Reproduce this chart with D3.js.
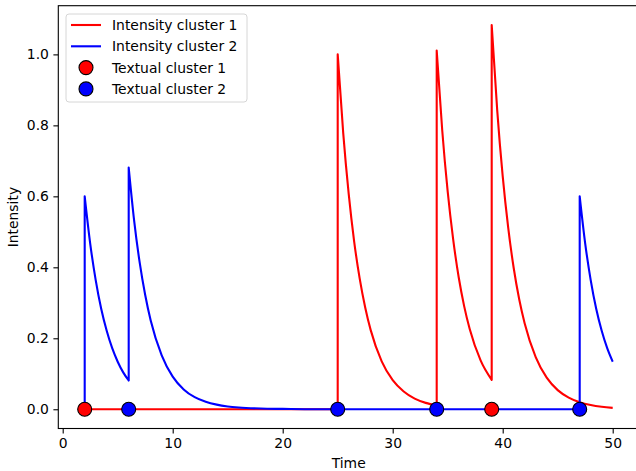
<!DOCTYPE html>
<html>
<head>
<meta charset="utf-8">
<script src="https://cdn.jsdelivr.net/npm/d3@7.9.0/dist/d3.min.js"></script>
<style>
  body { margin: 0; background: #fff; }
  svg { display: block; font-family: "DejaVu Sans", sans-serif; }
  .tick text { font-size: 13.9px; fill: #000; }
</style>
</head>
<body>
<svg width="636" height="471"></svg>
<script>
// intensity curves (time, intensity); repeated time = jump
const cluster1Time = [2, 25, 25, 25.5, 26, 26.5, 27, 27.5, 28, 29, 30, 31, 32, 33, 34,
  34, 34.5, 35, 35.5, 36, 36.5, 37, 38, 39,
  39, 39.5, 40, 40.5, 41, 41.5, 42, 43, 44, 45, 46, 47, 48, 49, 50];
const cluster1Value = [0, 0, 1.0, 0.779, 0.607, 0.472, 0.368, 0.287, 0.223, 0.135, 0.082, 0.050, 0.030, 0.018, 0.011,
  1.011, 0.787, 0.613, 0.478, 0.372, 0.290, 0.226, 0.137, 0.083,
  1.083, 0.843, 0.657, 0.512, 0.398, 0.310, 0.242, 0.147, 0.089, 0.054, 0.033, 0.020, 0.012, 0.007, 0.004];

const cluster2Time = [2, 2, 2.5, 3, 3.5, 4, 4.5, 5, 5.5, 6,
  6, 6.5, 7, 7.5, 8, 9, 10, 11, 12, 13, 14, 15, 16, 18, 20, 22, 25, 47,
  47, 47.5, 48, 48.5, 49, 49.5, 50];
const cluster2Value = [0, 0.60, 0.467, 0.364, 0.283, 0.221, 0.172, 0.134, 0.104, 0.081,
  0.681, 0.530, 0.413, 0.322, 0.250, 0.152, 0.092, 0.056, 0.034, 0.021, 0.013, 0.008, 0.005, 0.002, 0.001, 0.0002, 0, 0,
  0.60, 0.467, 0.364, 0.283, 0.221, 0.172, 0.134];

// textual events
const textual1 = [2, 39];
const textual2 = [6, 25, 34, 47];

const xTicks = [0, 10, 20, 30, 40, 50];
const yTicks = [0, 0.2, 0.4, 0.6, 0.8, 1.0];

const svg = d3.select('svg');
const plotLeft = 58.3, plotRight = 639.1, plotTop = 5.7, plotBottom = 428.5;

const x = d3.scaleLinear().domain([-0.4, 52.4]).range([plotLeft, plotRight]);
const y = d3.scaleLinear().domain([-0.0542, 1.1372]).range([plotBottom, plotTop]);

svg.append('defs').append('clipPath').attr('id', 'plot')
  .append('rect').attr('x', plotLeft).attr('y', plotTop)
  .attr('width', plotRight - plotLeft).attr('height', plotBottom - plotTop);

// split a series at repeated times, smooth each run, join runs with straight jumps
function seriesPath(ts, vs) {
  const pts = ts.map((t, i) => [t, vs[i]]);
  const runs = [[pts[0]]];
  for (let i = 1; i < pts.length; i++) {
    if (pts[i][0] === pts[i - 1][0]) runs.push([pts[i]]);
    else runs[runs.length - 1].push(pts[i]);
  }
  const line = d3.line().x(d => x(d[0])).y(d => y(d[1])).curve(d3.curveMonotoneX);
  return runs.map((r, i) => {
    let p = r.length > 1 ? line(r) : `M${x(r[0][0])},${y(r[0][1])}`;
    return i === 0 ? p : 'L' + p.slice(1);
  }).join('');
}

const g = svg.append('g').attr('clip-path', 'url(#plot)');

g.append('path').attr('d', seriesPath(cluster1Time, cluster1Value))
  .attr('fill', 'none').attr('stroke', '#ff0000').attr('stroke-width', 2.1)
  .attr('stroke-linejoin', 'round');
g.append('path').attr('d', seriesPath(cluster2Time, cluster2Value))
  .attr('fill', 'none').attr('stroke', '#0000ff').attr('stroke-width', 2.1)
  .attr('stroke-linejoin', 'round');

g.selectAll('.dot1').data(textual1).join('circle')
  .attr('cx', d => x(d)).attr('cy', y(0)).attr('r', 7)
  .attr('fill', '#ff0000').attr('stroke', '#000').attr('stroke-width', 1.1);
g.selectAll('.dot2').data(textual2).join('circle')
  .attr('cx', d => x(d)).attr('cy', y(0)).attr('r', 7)
  .attr('fill', '#0000ff').attr('stroke', '#000').attr('stroke-width', 1.1);

// axes
const xAxis = svg.append('g').attr('transform', `translate(0,${plotBottom})`)
  .call(d3.axisBottom(x).tickValues(xTicks).tickFormat(d3.format('d')).tickSize(4.9).tickPadding(4.5));
const yAxis = svg.append('g').attr('transform', `translate(${plotLeft},0)`)
  .call(d3.axisLeft(y).tickValues(yTicks).tickFormat(d3.format('.1f')).tickSize(4.9).tickPadding(4.5));
[xAxis, yAxis].forEach(a => {
  a.select('.domain').remove();
  a.selectAll('.tick line').attr('stroke', '#000').attr('stroke-width', 1.1);
  a.attr('font-family', null).attr('font-size', null);
});

svg.append('rect').attr('x', plotLeft).attr('y', plotTop)
  .attr('width', plotRight - plotLeft).attr('height', plotBottom - plotTop)
  .attr('fill', 'none').attr('stroke', '#000').attr('stroke-width', 1.1);

svg.append('text').attr('x', (plotLeft + plotRight) / 2).attr('y', 468)
  .attr('text-anchor', 'middle').attr('font-size', 13.9).text('Time');
svg.append('text').attr('transform', `translate(18,${(plotTop + plotBottom) / 2}) rotate(-90)`)
  .attr('text-anchor', 'middle').attr('font-size', 13.9).text('Intensity');

// legend
const legendItems = [
  { label: 'Intensity cluster 1', color: '#ff0000', kind: 'line' },
  { label: 'Intensity cluster 2', color: '#0000ff', kind: 'line' },
  { label: 'Textual cluster 1', color: '#ff0000', kind: 'dot' },
  { label: 'Textual cluster 2', color: '#0000ff', kind: 'dot' }
];
const legend = svg.append('g');
legend.append('rect').attr('x', 66).attr('y', 14).attr('width', 181).attr('height', 88)
  .attr('rx', 3).attr('fill', 'rgba(255,255,255,0.8)').attr('stroke', '#d6d6d6');
legendItems.forEach((d, i) => {
  const cy = 25 + i * 21.3;
  if (d.kind === 'line') {
    legend.append('line').attr('x1', 71).attr('x2', 101).attr('y1', cy).attr('y2', cy)
      .attr('stroke', d.color).attr('stroke-width', 2.1);
  } else {
    legend.append('circle').attr('cx', 86).attr('cy', cy).attr('r', 7)
      .attr('fill', d.color).attr('stroke', '#000').attr('stroke-width', 1.1);
  }
  legend.append('text').attr('x', 112).attr('y', cy + 5).attr('font-size', 13.9).text(d.label);
});
</script>
</body>
</html>
